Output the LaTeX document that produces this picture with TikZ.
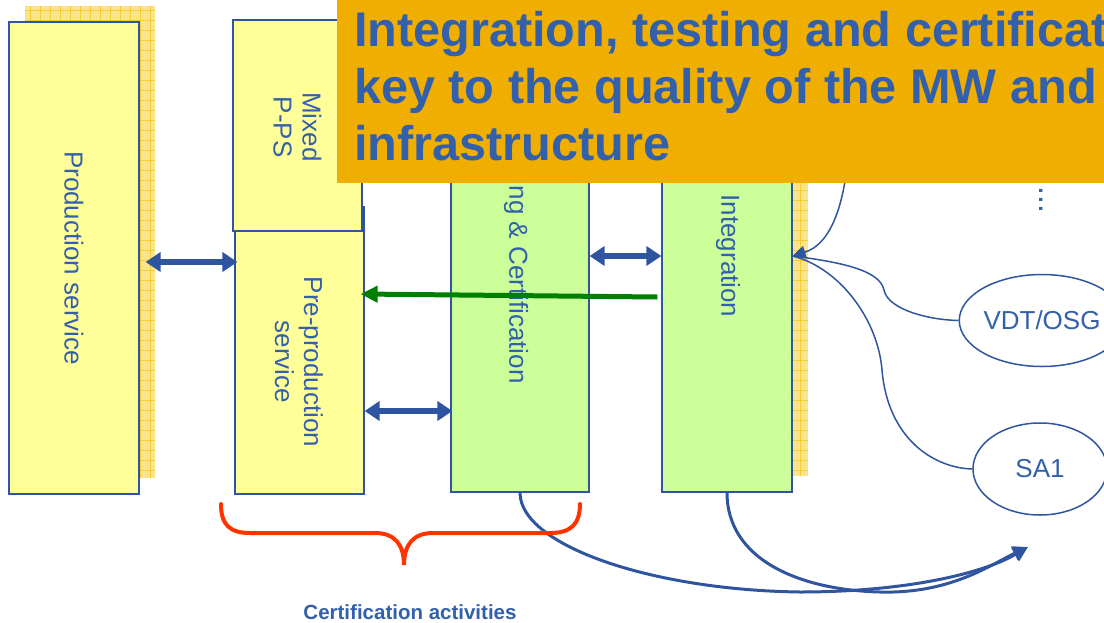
\documentclass[tikz,border=0pt]{standalone}
\usepackage{fontspec}
\setmainfont{Liberation Sans}
\usetikzlibrary{arrows.meta,shapes.geometric,calc}
\definecolor{bl}{RGB}{47,85,160}
\definecolor{txtb}{RGB}{51,96,170}
\definecolor{pyel}{RGB}{255,255,153}
\definecolor{pgrn}{RGB}{204,255,153}
\definecolor{shad}{RGB}{251,228,140}
\definecolor{shadline}{RGB}{245,205,50}
\definecolor{banner}{RGB}{240,174,0}
\definecolor{bracecol}{RGB}{255,51,0}
\definecolor{garr}{RGB}{0,128,0}
\tikzset{
  box/.style={draw=bl, line width=1.2pt, inner sep=0pt},
  lbl/.style={text=txtb, font=\fontsize{26}{29}\selectfont, rotate=-90, align=center, inner sep=0pt},
  dbl/.style={bl, line width=5.5pt, {Triangle[length=15pt,width=19pt]}-{Triangle[length=15pt,width=19pt]}},
  garrow/.style={garr, line width=5pt, -{Triangle[length=17pt,width=16pt]}},
  curve/.style={bl, line width=1.5pt},
  bcurve/.style={bl, line width=3pt},
  oval/.style={ellipse, draw=bl, line width=1.5pt, inner sep=0pt, text=txtb, font=\fontsize{26}{30}\selectfont},
  hatch/.style={shadline, line width=0.7pt, step=10pt},
}
\begin{document}
\begin{tikzpicture}[x=1pt,y=1pt]
\useasboundingbox (0,0) rectangle (1104,-622);
\clip (0,0) rectangle (1104,-622);
% shadows
\fill[shad] (25,-6) rectangle (155,-478);
\draw[hatch] (25,-6) grid (155,-478);
\fill[shad] (678,-4) rectangle (808,-476);
\draw[hatch] (678,-4) grid (808,-476);
% boxes
\node[box, fill=pyel, minimum width=130pt, minimum height=472pt] (prod) at (74,-258) {};
\node[lbl] (prodt) at (74,-258) {Production service};
\node[box, fill=pyel, minimum width=129pt, minimum height=287pt] (pre) at (299.5,-350.5) {};
\node[lbl] (pret) at (299,-362) {Pre-production\\service};
\node[box, fill=pyel, minimum width=129pt, minimum height=211pt] (mixed) at (297.5,-125.5) {};
\node[lbl] (mixedt) at (297.5,-127) {Mixed\\P-PS};
\node[box, fill=pgrn, minimum width=138pt, minimum height=472pt] (tc) at (520,-256) {};
\node[lbl] (tct) at (516,-258) {Testing \& Certification};
\node[box, fill=pgrn, minimum width=130pt, minimum height=472pt] (int) at (727,-256) {};
\node[lbl] (intt) at (728,-256) {Integration};
% ellipses
\node[oval, minimum width=132pt, minimum height=92pt] (vdt) at (1042,-320.5) {VDT/OSG};
\node[oval, minimum width=134pt, minimum height=92pt] (sa) at (1040,-469) {SA1};
\node[text=txtb, font=\fontsize{32}{32}\selectfont, rotate=-90, inner sep=0pt] (dots) at (1041,-200) {...};
% arrows
\draw[dbl] ($(prod.east)+(6,-4)$) -- ($(prod.east -| pre.west)+(3,-4)$);
\draw[dbl] (tc.east) -- (int.west);
\draw[dbl] ($(pre.east)+(0,-60.5)$) -- ($(pre.east -| tc.west)+(2,-60.5)$);
\draw[garrow] ($(int.west)+(-4,-41)$) -- ($(pre.east)+(-4,56.5)$);
% curves into integration
\coordinate (topsrc) at (850,-110);
\draw[curve, -{Triangle[length=13pt,width=13pt]}] (topsrc) .. controls (850,-210) and (828,-245) .. (int.east);
\draw[curve] (vdt.west) .. controls (930,-320) and (888,-310) .. (884,-290) .. controls (880,-270) and (840,-262) .. (int.east);
\draw[curve] (sa.west) .. controls (935,-468) and (888,-440) .. (882,-370) .. controls (878,-320) and (840,-268) .. (int.east);
% bottom curves
\coordinate (btarget) at (1028,-547);
\draw[bcurve, -{Triangle[length=15pt,width=15pt]}] (tc.south) .. controls (520,-545) and (650,-590) .. (800,-592) .. controls (900,-592) and (980,-575) .. (btarget);
\draw[bcurve, -{Triangle[length=15pt,width=15pt]}] (int.south) .. controls (727,-560) and (800,-590) .. (880,-592) .. controls (950,-594) and (990,-565) .. (btarget);
% brace
\draw[bracecol, line width=4pt, line cap=round] (221,-504) .. controls (221,-525) and (230,-533) .. (250,-533) -- (375,-533) .. controls (395,-533) and (404,-545) .. (404,-565) .. controls (404,-545) and (413,-533) .. (433,-533) -- (550,-533) .. controls (570,-533) and (580,-525) .. (580,-504);
\node[text=txtb, font=\fontsize{20.5}{24}\selectfont\bfseries, inner sep=0pt] (certact) at (410,-612) {Certification activities};
% banner
\node[fill=banner, minimum width=767pt, minimum height=183pt, anchor=north west, inner sep=0pt] (banner) at (337,0) {};
\node[anchor=base west, text=txtb, align=left, inner sep=0pt, font=\fontsize{48.6}{57}\selectfont\bfseries] (title) at (354,-160) {Integration, testing and certification are\\key to the quality of the MW and the\\infrastructure};
\end{tikzpicture}
\end{document}
